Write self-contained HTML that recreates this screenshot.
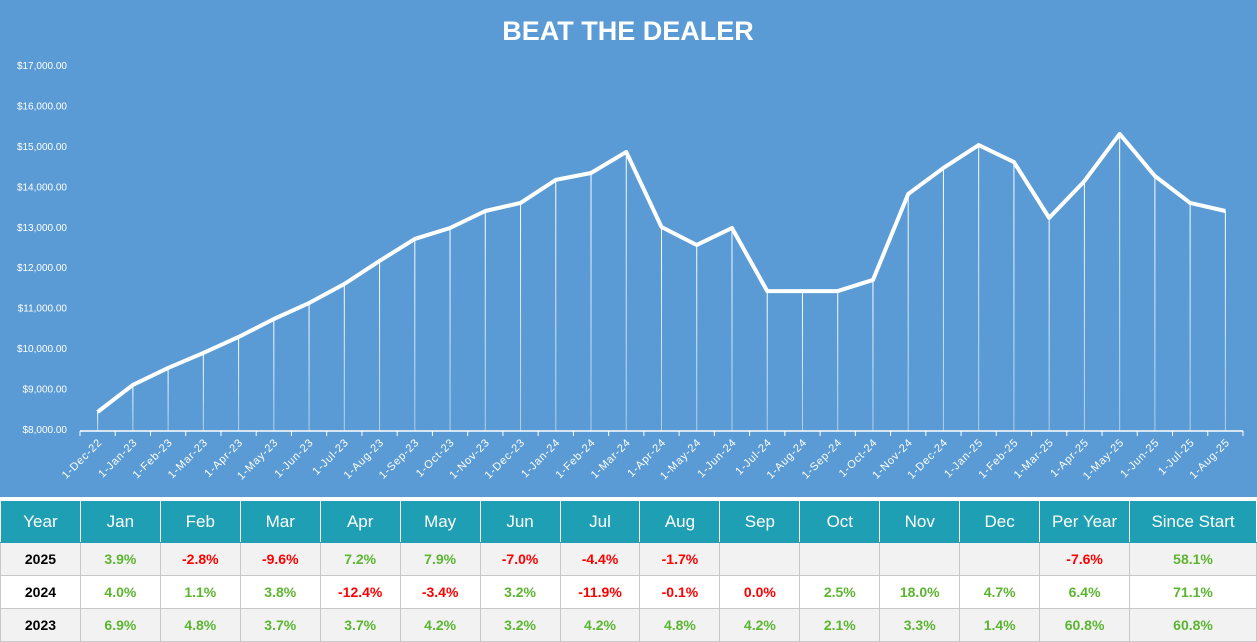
<!DOCTYPE html>
<html><head><meta charset="utf-8"><style>
body{margin:0;width:1257px;height:642px;overflow:hidden;background:#fff;font-family:"Liberation Sans",Arial,sans-serif}
#chart{position:absolute;left:0;top:0;width:1257px;height:497px;background:#5b9bd5}
table{position:absolute;left:0;top:500px;border-collapse:collapse;table-layout:fixed}
td,th{border:1px solid #c8c8c8;text-align:center;padding:0;font-size:14px}
th{background:#1f9fb3;color:#fff;font-weight:normal;font-size:17px;height:41px;border-color:#fff #fff #1f9fb3 #fff}
td{height:32px;font-weight:bold}
tr.g td{background:#f2f2f2}
.p{color:#5cb531}.n{color:#f00}.y{color:#000}
</style></head><body>
<div id="chart">
<svg id="svg" width="1257" height="497"></svg>
</div>
<table>
<colgroup><col style="width:80px"><col span="12" style="width:80px"><col style="width:90px"><col style="width:127px"></colgroup>
<tbody id="tb"></tbody>
</table>
<script>
const categories=["1-Dec-22","1-Jan-23","1-Feb-23","1-Mar-23","1-Apr-23","1-May-23","1-Jun-23","1-Jul-23","1-Aug-23","1-Sep-23","1-Oct-23","1-Nov-23","1-Dec-23","1-Jan-24","1-Feb-24","1-Mar-24","1-Apr-24","1-May-24","1-Jun-24","1-Jul-24","1-Aug-24","1-Sep-24","1-Oct-24","1-Nov-24","1-Dec-24","1-Jan-25","1-Feb-25","1-Mar-25","1-Apr-25","1-May-25","1-Jun-25","1-Jul-25","1-Aug-25"];
const values=[8420,9090,9510,9880,10275,10720,11115,11585,12155,12700,12970,13390,13590,14160,14330,14850,12995,12550,12970,11410,11410,11410,11685,13810,14455,15020,14600,13220,14130,15295,14255,13590,13390];
const yTicks=[8000,9000,10000,11000,12000,13000,14000,15000,16000,17000];
const headers=["Year","Jan","Feb","Mar","Apr","May","Jun","Jul","Aug","Sep","Oct","Nov","Dec","Per Year","Since Start"];
const rows=[["2025","3.9%","-2.8%","-9.6%","7.2%","7.9%","-7.0%","-4.4%","-1.7%","","","","","-7.6%","58.1%"],
["2024","4.0%","1.1%","3.8%","-12.4%","-3.4%","3.2%","-11.9%","-0.1%","0.0%","2.5%","18.0%","4.7%","6.4%","71.1%"],
["2023","6.9%","4.8%","3.7%","3.7%","4.2%","3.2%","4.2%","4.8%","4.2%","2.1%","3.3%","1.4%","60.8%","60.8%"]];
const NS="http://www.w3.org/2000/svg",svg=document.getElementById('svg');
const x0=80,x1=1243,step=(x1-x0)/categories.length;
const X=i=>x0+step*(i+0.5), Y=v=>429-(v-8000)*364/9000;
function mk(t,a,p){const e=document.createElementNS(NS,t);for(const k in a)e.setAttribute(k,a[k]);(p||svg).appendChild(e);return e;}
const defs=mk('defs',{});
const g=mk('linearGradient',{id:'fd',x1:0,y1:0,x2:0,y2:1},defs);
mk('stop',{offset:'0','stop-color':'#fff','stop-opacity':1},g);
mk('stop',{offset:'1','stop-color':'#fff','stop-opacity':0.5},g);
const title=mk('text',{x:628,y:40,'text-anchor':'middle',fill:'#fff','font-size':27,'font-weight':'bold','font-family':'Liberation Sans,sans-serif'});
title.textContent='BEAT THE DEALER';


yTicks.forEach(v=>{const t=mk('text',{x:67,y:Y(v)+4,'text-anchor':'end',fill:'#fff','font-size':10,'font-family':'Liberation Sans,sans-serif'});
t.textContent='$'+v.toLocaleString('en-US')+'.00';

});
mk('line',{x1:x0,y1:431,x2:x1,y2:431,stroke:'#fff','stroke-width':1.5});
for(let i=0;i<=categories.length;i++){mk('line',{x1:x0+step*i,y1:431,x2:x0+step*i,y2:436,stroke:'#fff'});}
categories.forEach((c,i)=>{const l=mk('rect',{x:X(i)-0.5,y:Y(values[i]),width:1,height:431-Y(values[i]),fill:'url(#fd)'});


const t=mk('text',{x:X(i)+5,y:443,'text-anchor':'end',fill:'#fff','font-size':11,'letter-spacing':'0.8','font-family':'Liberation Sans,sans-serif',transform:`rotate(-45 ${X(i)+5} 443)`});
t.textContent=c;

});
const line=mk('polyline',{points:values.map((v,i)=>X(i)+','+Y(v)).join(' '),fill:'none',stroke:'#fff','stroke-width':4,'stroke-linejoin':'round'});


const tb=document.getElementById('tb');
const hr=document.createElement('tr');


headers.forEach(h=>{const th=document.createElement('th');th.textContent=h;

hr.appendChild(th);});
tb.appendChild(hr);
rows.forEach((r,ri)=>{const tr=document.createElement('tr');if(ri!==1)tr.className='g';


r.forEach((c,ci)=>{const td=document.createElement('td');td.textContent=c;
td.className=ci===0?'y':(c.startsWith('-')?'n':(c==='0.0%'?'n':'p'));

tr.appendChild(td);});
tb.appendChild(tr);});
</script>
</body></html>
